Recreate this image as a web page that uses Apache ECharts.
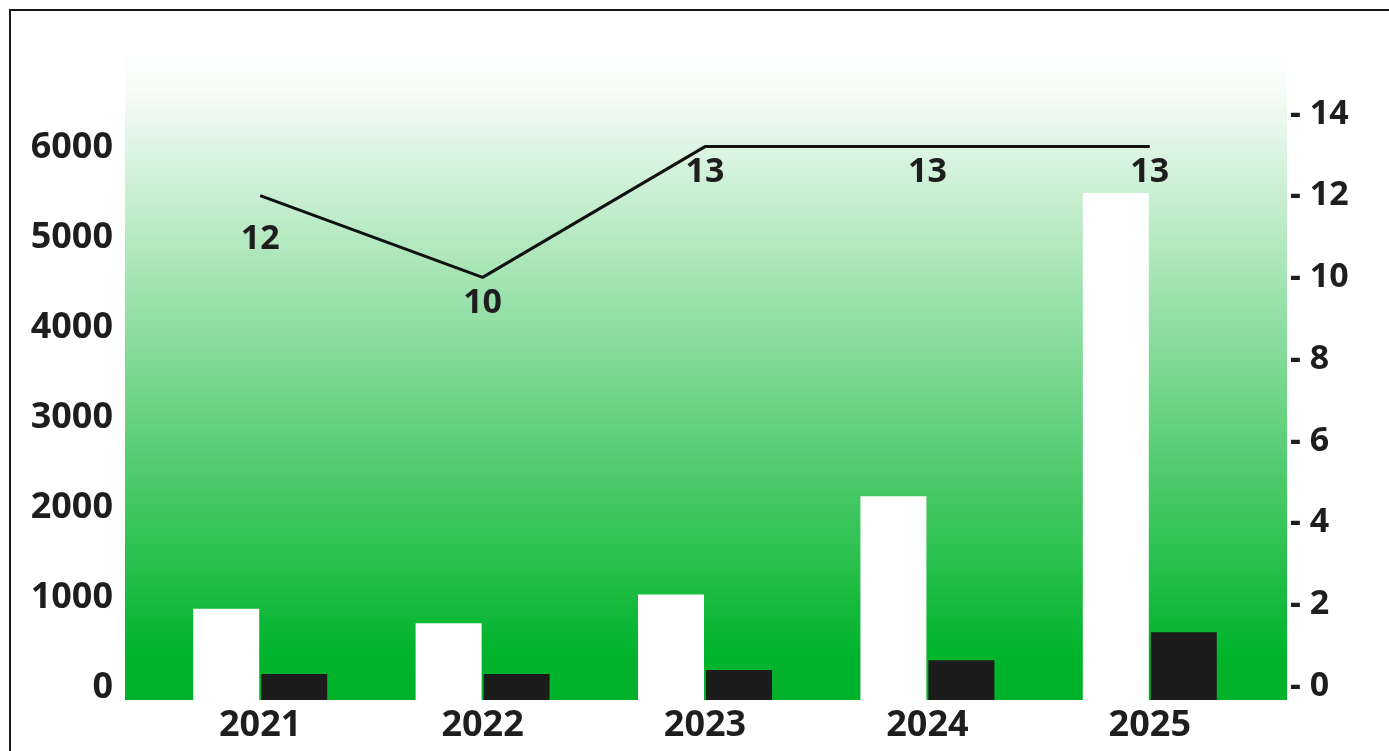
<!DOCTYPE html>
<html>
<head>
<meta charset="utf-8">
<script src="https://cdn.jsdelivr.net/npm/echarts@6/dist/echarts.min.js"></script>
<style>
    html, body { margin: 0; padding: 0; background: #fff; overflow: hidden; }
    #frame { position: absolute; left: 9px; top: 9px; width: 1400px; height: 760px; border: 2px solid #1a1a1a; }
    #main { position: absolute; left: 0; top: 0; width: 1389px; height: 751px; }
</style>
</head>
<body>
<div id="frame"></div>
<div id="main"></div>
<script>
// 数据
var years = ['2021', '2022', '2023', '2024', '2025'];
var whiteBars = [880, 720, 1040, 2130, 5500];
var blackBars = [155, 155, 200, 310, 620];
var lineVals = [12, 10, 13.2, 13.2, 13.2];

var textColor = '#1e1e1e';
var font = 'Noto Sans';

var myChart = echarts.init(document.getElementById('main'));
myChart.setOption({
    animation: false,
    // 绿色渐变背景
    graphic: [{
        type: 'rect',
        left: 125,
        top: 45,
        z: -10,
        shape: { width: 1162, height: 655 },
        style: {
            fill: new echarts.graphic.LinearGradient(0, 0, 0, 1, [
                { offset: 0, color: '#ffffff' },
                { offset: 0.07, color: '#f6fcf7' },
                { offset: 0.93, color: '#00b42b' },
                { offset: 1, color: '#00b22a' }
            ])
        }
    }],
    grid: {
        left: 149,
        right: 128,
        top: 100,
        bottom: 51
    },
    xAxis: {
        type: 'category',
        data: years,
        axisLine: { show: false },
        axisTick: { show: false },
        axisLabel: {
            margin: 8,
            color: textColor,
            fontFamily: font,
            fontWeight: 'bold',
            fontSize: 36
        }
    },
    yAxis: [
        {
            type: 'value',
            min: -133,
            max: 6533,
            startValue: -133,
            splitNumber: 7,
            splitLine: { show: false },
            axisLine: { show: false },
            axisTick: { show: false },
            axisLabel: {
                showMinLabel: false,
                showMaxLabel: false,
                margin: 36,
                color: textColor,
                fontFamily: font,
                fontWeight: 'bold',
                fontSize: 36,
                formatter: function (v) { return String(v); }
            }
        },
        {
            type: 'value',
            min: -0.34,
            max: 14.34,
            splitNumber: 7,
            splitLine: { show: false },
            axisLine: { show: false },
            axisTick: { show: false },
            axisLabel: {
                showMinLabel: false,
                showMaxLabel: false,
                margin: 29,
                color: textColor,
                fontFamily: font,
                fontWeight: 'bold',
                fontSize: 34,
                formatter: function (v) { return '- ' + v; }
            }
        }
    ],
    series: [
        {
            type: 'bar',
            data: whiteBars,
            barWidth: 66,
            barGap: '3%',
            itemStyle: { color: '#ffffff' }
        },
        {
            type: 'bar',
            data: blackBars,
            barWidth: 66,
            itemStyle: { color: '#1c1c1c' }
        },
        {
            type: 'line',
            yAxisIndex: 1,
            data: lineVals.map(function (v, i) {
                return i === 0 ? { value: v, label: { distance: 26 } } : v;
            }),
            symbol: 'circle',
            symbolSize: 1,
            itemStyle: { color: 'rgba(0,0,0,0)' },
            lineStyle: { color: '#111111', width: 3 },
            label: {
                show: true,
                position: 'bottom',
                distance: 8,
                color: textColor,
                fontFamily: font,
                fontWeight: 'bold',
                fontSize: 34,
                formatter: function (p) { return Math.round(p.value); }
            }
        }
    ]
});
</script>
</body>
</html>
